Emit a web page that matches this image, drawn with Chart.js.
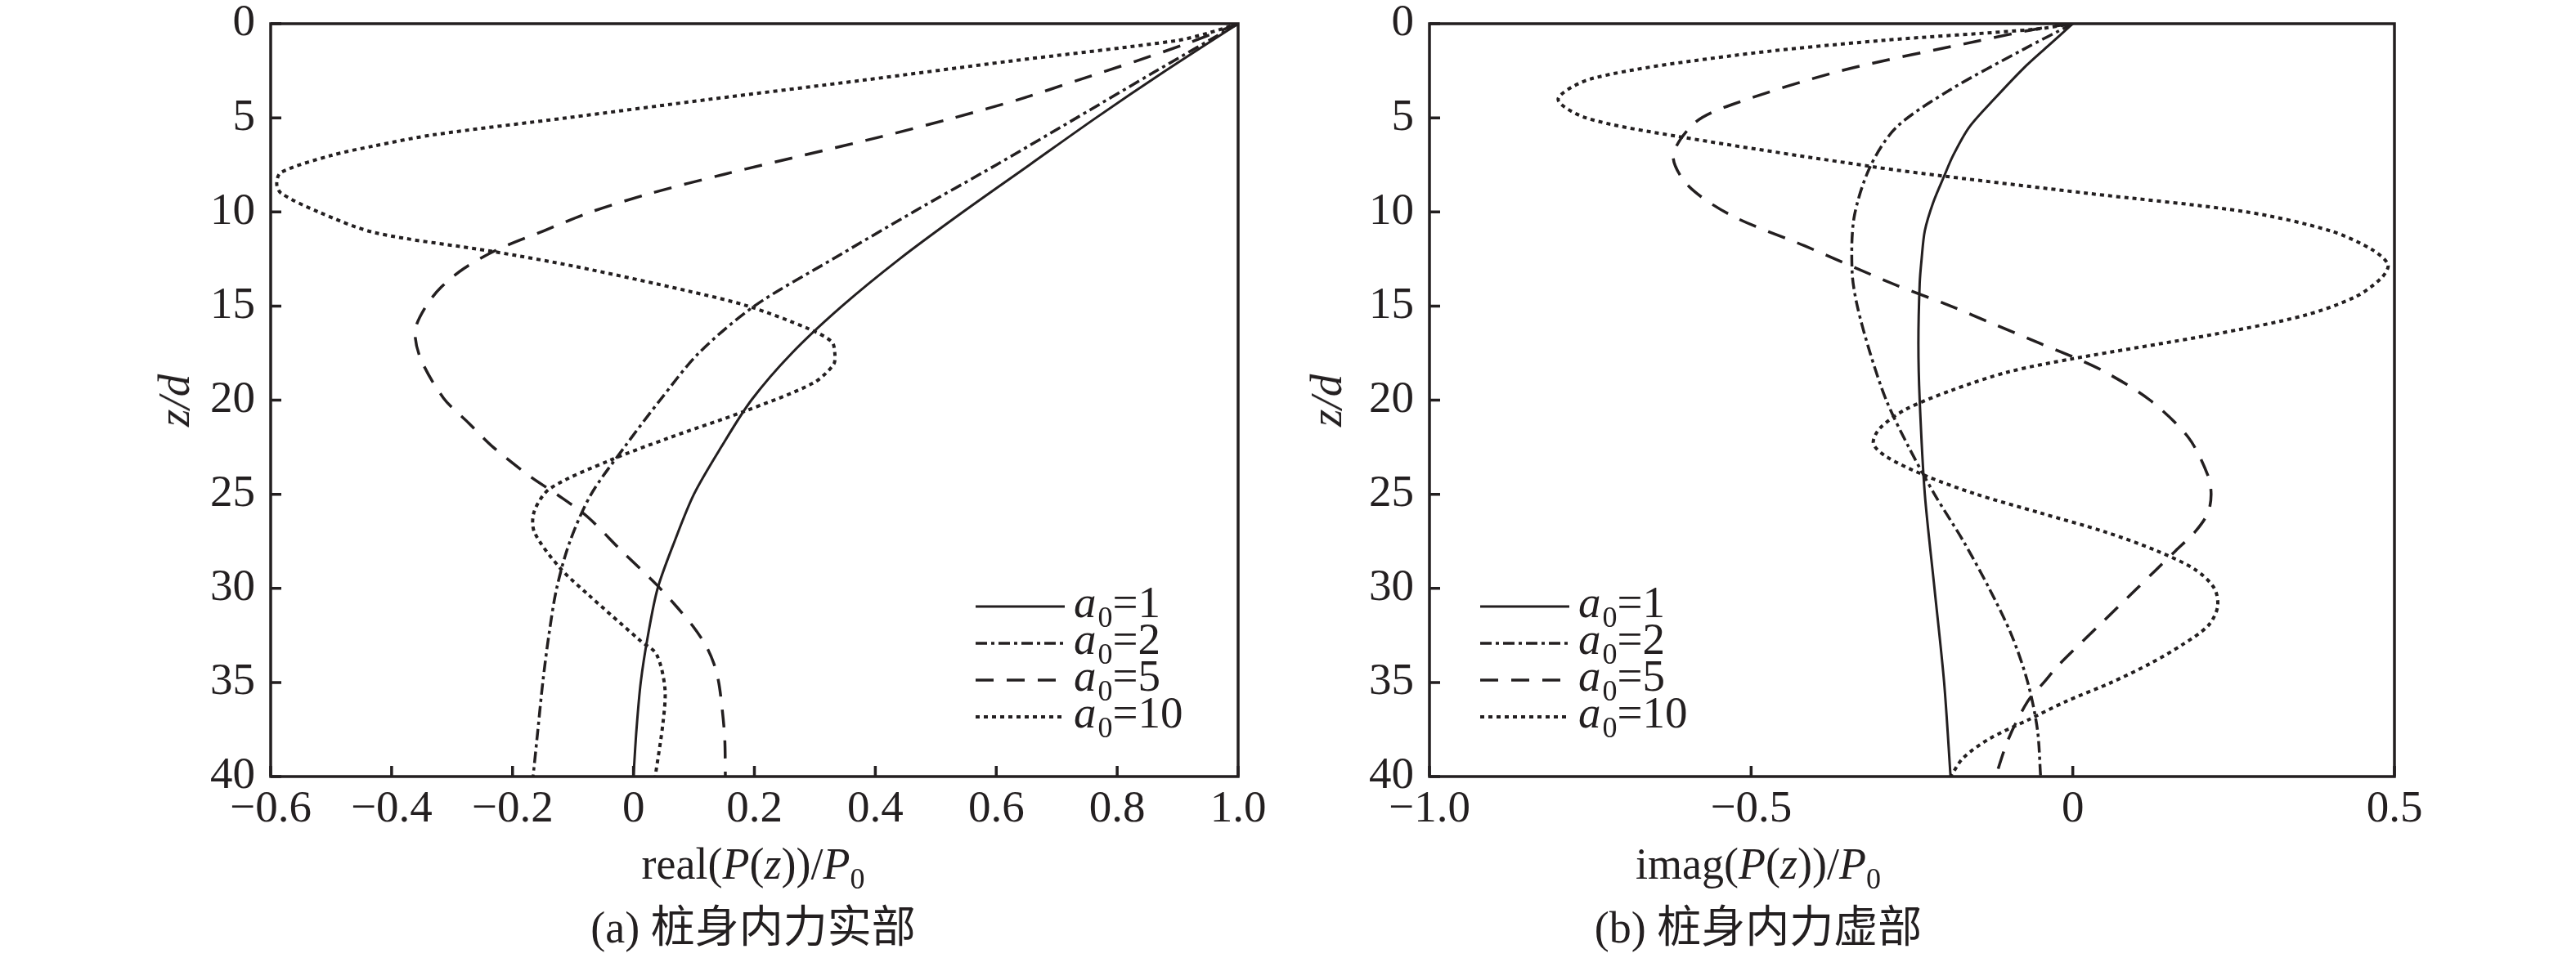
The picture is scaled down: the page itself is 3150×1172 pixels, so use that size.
<!DOCTYPE html>
<html>
<head>
<meta charset="utf-8">
<script src="https://cdn.jsdelivr.net/npm/chart.js@4.4.1/dist/chart.umd.min.js"></script>
<style>
  html, body { margin: 0; padding: 0; background: #fff; }
  #page { position: relative; width: 3150px; height: 1172px; overflow: hidden;
          font-family: "Liberation Serif", "Times New Roman", serif; color: #231f20; }
  canvas { position: absolute; top: 0; }
  #realChart { left: 0; }
  #imagChart { left: 1575px; }
  .label { position: absolute; white-space: nowrap; font-size: 54px; line-height: 60px; }
  .xtitle { transform: translateX(-50%); top: 1027px; }
  .caption { transform: translateX(-50%); top: 1105px;
             font-family: "Liberation Serif", "Noto Sans CJK SC", serif; }
  .ytitle { transform: translate(-50%, -50%) rotate(-90deg); top: 490px; font-style: italic; font-size: 55px; }
  .sub { font-size: 36px; position: relative; top: 12px; font-style: normal; }
</style>
</head>
<body>
<div id="page">
  <canvas id="realChart" width="1575" height="1172"></canvas>
  <canvas id="imagChart" width="1575" height="1172"></canvas>

  <div class="label ytitle" style="left:213px">z/d</div>
  <div class="label xtitle" style="left:921px">real(<i>P</i>(<i>z</i>))/<i>P</i><span class="sub">0</span></div>
  <div class="label caption" style="left:921px">(a) 桩身内力实部</div>

  <div class="label ytitle" style="left:1622px">z/d</div>
  <div class="label xtitle" style="left:2150px">imag(<i>P</i>(<i>z</i>))/<i>P</i><span class="sub">0</span></div>
  <div class="label caption" style="left:2150px">(b) 桩身内力虚部</div>
</div>

<script>
const INK = '#231f20';
const FONT = "'Liberation Serif', serif";
Chart.defaults.font.family = FONT;
Chart.defaults.color = INK;

// dimensionless frequencies, one curve each
const a0Values = [1, 2, 5, 10];

// tick labels
const depthTicks = [0, 5, 10, 15, 20, 25, 30, 35, 40];
const realTicks = [-0.6, -0.4, -0.2, 0, 0.2, 0.4, 0.6, 0.8, 1.0];
const imagTicks = [-1.0, -0.5, 0, 0.5];

// (a) real(P(z))/P0 against z/d
const realZ1 = [0, 2.5, 5, 7.5, 10, 12.5, 15, 17.5, 20, 22.5, 25, 27.5, 30, 32.5, 35, 37.5, 40];
const realA1 = [1.0, 0.88, 0.765, 0.655, 0.545, 0.44, 0.345, 0.262, 0.195, 0.145, 0.10, 0.068, 0.04, 0.024, 0.012, 0.005, 0.0];

const realZ2 = [0, 2.5, 5, 7.5, 10, 12.5, 15, 17.5, 20, 22.5, 25, 27.5, 30, 32.5, 35, 37.5, 40];
const realA2 = [1.0, 0.865, 0.733, 0.60, 0.463, 0.33, 0.2, 0.108, 0.044, -0.015, -0.07, -0.105, -0.127, -0.14, -0.15, -0.158, -0.166];

const realZ5 = [0, 1, 2, 3, 4, 5, 6, 7, 8, 9, 10, 11, 12, 13, 14, 15, 16.3, 17.8, 19.9, 21.2, 22.5,
                24.1, 25, 26.2, 28, 29.8, 31, 32, 33, 34, 35, 36.5, 38, 40];
const realA5 = [1.0, 0.92, 0.83, 0.735, 0.64, 0.53, 0.41, 0.28, 0.15, 0.03, -0.07, -0.148, -0.225, -0.28, -0.318, -0.343, -0.361, -0.352, -0.314, -0.273, -0.232,
                -0.169, -0.127, -0.076, -0.02, 0.038, 0.072, 0.098, 0.119, 0.133, 0.141, 0.147, 0.151, 0.152];

const realZ10 = [0, 0.5, 0.9, 2, 3, 4, 5, 5.9, 6.5, 7, 7.9, 8.5, 9, 10, 11.1, 12.1, 12.9, 14.2, 15, 16.2, 16.9, 17.5,
                 18.1, 19.1, 20.6, 22, 23.2, 24.7, 25.9, 27, 28.9, 30.3, 32.8, 33.5, 35.3, 37.1, 40];
const realA10 = [1.0, 0.95, 0.898, 0.62, 0.38, 0.13, -0.11, -0.33, -0.43, -0.5, -0.583, -0.59, -0.583, -0.521, -0.428, -0.233, -0.096, 0.09, 0.189, 0.289, 0.328, 0.333,
                 0.331, 0.297, 0.183, 0.059, -0.039, -0.138, -0.164, -0.164, -0.122, -0.076, 0.012, 0.038, 0.052, 0.049, 0.036];

// (b) imag(P(z))/P0 against z/d
const imagZ1 = [0, 1.2, 2.35, 4, 5.5, 7, 8.1, 9.5, 11, 12.5, 13.8, 17, 20, 25, 30, 35, 40];
const imagA1 = [0, -0.039, -0.076, -0.122, -0.161, -0.186, -0.2, -0.217, -0.23, -0.235, -0.238, -0.24, -0.238, -0.23, -0.215, -0.2, -0.19];

const imagZ2 = [0, 1.35, 3.5, 5.5, 7.6, 10.3, 13.2, 15, 17.5, 20, 22.5, 25, 27.5, 30, 32.5, 35, 37.5, 40];
const imagA2 = [0, -0.076, -0.19, -0.274, -0.315, -0.34, -0.343, -0.335, -0.315, -0.29, -0.255, -0.215, -0.17, -0.13, -0.095, -0.07, -0.055, -0.05];

const imagZ5 = [0, 0.26, 0.9, 2.5, 4.3, 5.25, 7.0, 8.6, 10.2, 11.8, 13.8, 15, 16, 17, 17.7, 18.5, 20, 22, 24, 25,
                26, 27, 28, 29, 30, 32, 34, 35, 36, 38, 40];
const imagA5 = [0, -0.053, -0.145, -0.36, -0.53, -0.587, -0.621, -0.598, -0.53, -0.417, -0.281, -0.19, -0.12, -0.05, 0.0, 0.05, 0.12, 0.18, 0.21, 0.215,
                0.21, 0.19, 0.16, 0.13, 0.10, 0.04, -0.02, -0.045, -0.07, -0.10, -0.12];

const imagZ10 = [0, 0.3, 0.9, 1.7, 2.9, 4.0, 5.0, 6.0, 7.6, 8.1, 9.0, 10, 11, 12, 12.8, 13.5, 14.5, 15.5, 16.5, 17.8,
                 18.5, 19.5, 20.5, 21.5, 22.3, 23, 24, 25, 26, 27, 28, 29, 30, 31, 32, 33, 34, 35, 36, 37, 38, 39, 40];
const imagA10 = [0, -0.06, -0.30, -0.53, -0.746, -0.80, -0.757, -0.612, -0.311, -0.2, 0.02, 0.27, 0.40, 0.465, 0.49, 0.48, 0.44, 0.36, 0.22, 0.0,
                 -0.1, -0.19, -0.26, -0.30, -0.31, -0.29, -0.23, -0.15, -0.05, 0.05, 0.13, 0.19, 0.22, 0.225, 0.21, 0.17, 0.12, 0.06, -0.01, -0.07, -0.13, -0.17, -0.19];

// line styles: solid, dash-dot, dashed, dotted
const dashes = [[], [14, 5, 4, 5], [22, 16], [5, 5]];
const widths = [3, 3.5, 3.5, 4];

function fmtX(v) {
  if (Math.abs(v) < 1e-9) return '0';
  const s = Math.abs(v).toFixed(1);
  return v < 0 ? '\u2212' + s : s;
}

function fmtY(v) {
  return String(Math.round(v));
}

function toPoints(zs, vs) {
  return zs.map((z, i) => ({ x: vs[i], y: z }));
}

// box around the plot + inward tick marks
const frameTicks = {
  id: 'frameTicks',
  afterDraw(chart) {
    const { ctx, chartArea: a, scales: { x, y } } = chart;
    ctx.save();
    ctx.strokeStyle = INK;
    ctx.lineWidth = 3.5;
    ctx.setLineDash([]);
    ctx.strokeRect(a.left, a.top, a.right - a.left, a.bottom - a.top);
    ctx.beginPath();
    x.ticks.forEach(t => {
      const px = x.getPixelForValue(t.value);
      ctx.moveTo(px, a.bottom);
      ctx.lineTo(px, a.bottom - 13);
    });
    y.ticks.forEach(t => {
      const py = y.getPixelForValue(t.value);
      ctx.moveTo(a.left, py);
      ctx.lineTo(a.left + 13, py);
    });
    ctx.stroke();
    ctx.restore();
  }
};

// legend with italic a, subscript 0
const curveLegend = {
  id: 'curveLegend',
  afterDraw(chart, args, opts) {
    const ctx = chart.ctx;
    chart.data.datasets.forEach((ds, i) => {
      const y = opts.top + i * opts.rowGap;
      ctx.save();
      ctx.strokeStyle = ds.borderColor;
      ctx.lineWidth = ds.borderWidth;
      ctx.setLineDash(ds.borderDash);
      ctx.beginPath();
      ctx.moveTo(opts.x, y);
      ctx.lineTo(opts.x + opts.len, y);
      ctx.stroke();
      ctx.restore();

      let tx = opts.x + opts.len + 11;
      const base = y + 13;
      ctx.save();
      ctx.fillStyle = INK;
      ctx.textAlign = 'left';
      ctx.textBaseline = 'alphabetic';
      ctx.font = 'italic 55px ' + FONT;
      ctx.fillText('a', tx, base);
      tx += ctx.measureText('a').width + 2;
      ctx.font = '36px ' + FONT;
      ctx.fillText('0', tx, base + 12);
      tx += ctx.measureText('0').width;
      ctx.font = '55px ' + FONT;
      ctx.fillText('=' + a0Values[i], tx, base);
      ctx.restore();
    });
  }
};

function buildChart(canvasId, zs, vs, xTicks, yAxisWidth, padRight, legendX) {
  const datasets = vs.map((v, i) => ({
    label: 'a0=' + a0Values[i],
    data: toPoints(zs[i], v),
    borderColor: INK,
    borderWidth: widths[i],
    borderDash: dashes[i],
    pointRadius: 0,
    tension: 0.3,
    fill: false
  }));

  const tickFont = { family: FONT, size: 55 };

  return new Chart(document.getElementById(canvasId), {
    type: 'scatter',
    data: { datasets },
    options: {
      responsive: false,
      animation: false,
      devicePixelRatio: 1,
      showLine: true,
      layout: { padding: { left: 0, top: 29, right: padRight, bottom: 0 } },
      plugins: {
        legend: { display: false },
        tooltip: { enabled: false },
        curveLegend: { x: legendX, top: 742, rowGap: 45, len: 109 }
      },
      scales: {
        x: {
          type: 'linear',
          min: xTicks[0],
          max: xTicks[xTicks.length - 1],
          afterBuildTicks: s => { s.ticks = xTicks.map(v => ({ value: v })); },
          ticks: { callback: fmtX, font: tickFont, color: INK, padding: 8, maxRotation: 0, autoSkip: false },
          grid: { display: false, drawTicks: false },
          border: { display: false },
          afterFit: s => { s.height = 222; s.paddingLeft = 0; s.paddingRight = 0; }
        },
        y: {
          type: 'linear',
          reverse: true,
          min: 0,
          max: 40,
          afterBuildTicks: s => { s.ticks = depthTicks.map(v => ({ value: v })); },
          ticks: { callback: fmtY, font: tickFont, color: INK, padding: 19 },
          grid: { display: false, drawTicks: false },
          border: { display: false },
          afterFit: s => { s.width = yAxisWidth; s.paddingTop = 0; s.paddingBottom = 0; }
        }
      }
    },
    plugins: [frameTicks, curveLegend]
  });
}

buildChart('realChart',
  [realZ1, realZ2, realZ5, realZ10],
  [realA1, realA2, realA5, realA10],
  realTicks, 331, 61, 1193);

buildChart('imagChart',
  [imagZ1, imagZ2, imagZ5, imagZ10],
  [imagA1, imagA2, imagA5, imagA10],
  imagTicks, 173, 222, 235);
</script>
</body>
</html>
